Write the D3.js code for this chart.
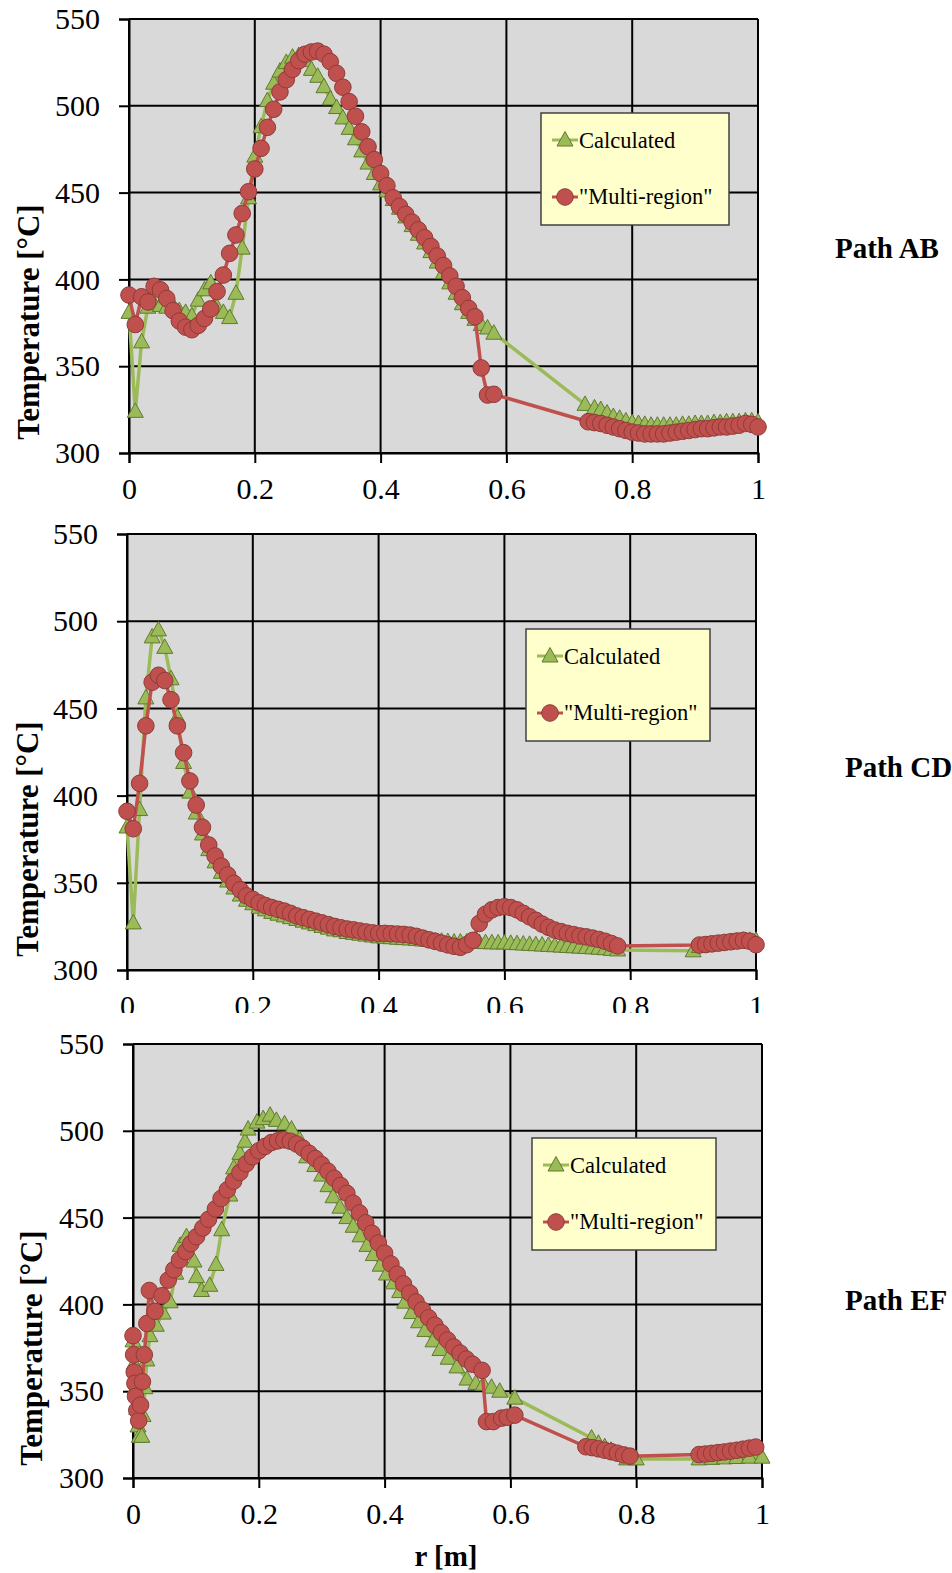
<!DOCTYPE html>
<meta charset="utf-8">
<html>
<head>
<title>Temperature along paths</title>
<style>
  body { margin: 0; background: #fff; }
  svg { display: block; }
  text { font-family: 'Liberation Serif', 'Times New Roman', serif; }
</style>
</head>
<body>
<script src="https://cdnjs.cloudflare.com/ajax/libs/d3/7.8.5/d3.min.js"></script>
<script>
// axis ticks
var xTicks = [0, 0.2, 0.4, 0.6, 0.8, 1];
var yTicks = [300, 350, 400, 450, 500, 550];
var seriesNames = ["Calculated", "\"Multi-region\""];

// Path AB  [r (m), T (°C)]
var abCalc = [
  [0,381],[0.01,324],[0.02,364],[0.03,384],[0.04,386],[0.05,385],[0.06,384],[0.07,385],[0.08,382],[0.09,381],
  [0.10,379],[0.11,388],[0.12,394],[0.13,398],[0.14,384],[0.15,381],[0.16,378],[0.17,392],[0.18,418],[0.19,447],
  [0.20,471],[0.21,488],[0.22,503],[0.23,513],[0.24,520],[0.25,525],[0.26,528],[0.27,529],[0.28,526],[0.29,521],
  [0.30,517],[0.31,511],[0.32,504],[0.33,499],[0.34,493],[0.35,487],[0.36,481],[0.37,474],[0.38,467],[0.39,461],
  [0.40,455],[0.41,451],[0.42,446],[0.43,441],[0.44,436],[0.45,431],[0.46,426],[0.47,421],[0.48,416],[0.49,410],
  [0.50,404],[0.51,398],[0.52,392],[0.53,386],[0.54,381],[0.55,377],[0.56,374],[0.57,372],[0.58,369],
  [0.725,328],[0.74,326],[0.75,325],[0.76,323],[0.77,321],[0.78,320],[0.79,318.5],[0.80,317.5],[0.81,317],[0.82,316.5],
  [0.83,316],[0.84,316],[0.85,316],[0.86,316],[0.87,316],[0.88,316.5],[0.89,316.5],[0.90,317],[0.91,317],[0.92,317],
  [0.93,317.5],[0.94,317.5],[0.95,318],[0.96,318],[0.97,318],[0.98,318.5],[0.99,318.5],[1.0,318]
];
var abMulti = [
  [0,391],[0.01,374],[0.02,390],[0.03,387],[0.04,396],[0.05,394],[0.06,389],[0.07,382],[0.08,376],[0.09,372.5],
  [0.10,371],[0.11,373.5],[0.12,377.5],[0.13,383],[0.14,393],[0.15,402.5],[0.16,415],[0.17,425.6],[0.18,438],[0.19,450.5],
  [0.20,463.6],[0.21,475.5],[0.22,487.6],[0.23,498],[0.24,508],[0.25,515],[0.26,521],[0.27,526],[0.28,529.7],[0.29,531],
  [0.30,531.5],[0.31,529.7],[0.32,525.4],[0.33,518.7],[0.34,510.7],[0.35,502.4],[0.36,494],[0.37,485],[0.38,476.4],[0.39,469],
  [0.40,461],[0.41,454],[0.42,447],[0.43,442],[0.44,437.5],[0.45,433],[0.46,428.5],[0.47,424],[0.48,419],[0.49,413.5],
  [0.50,408],[0.51,402],[0.52,396],[0.53,389.5],[0.54,383.3],[0.55,378.5],[0.56,349],[0.57,333.4],[0.58,333.8],
  [0.73,318],[0.74,317.5],[0.75,317],[0.76,316],[0.77,315],[0.78,314],[0.79,313],[0.80,312],[0.81,311.5],[0.82,311],
  [0.83,311],[0.84,311],[0.85,311],[0.86,311.5],[0.87,312],[0.88,312.5],[0.89,313],[0.90,313.5],[0.91,314],[0.92,314],
  [0.93,314.5],[0.94,315],[0.95,315],[0.96,315.5],[0.97,316],[0.98,317],[0.99,316.5],[1.0,315]
];

// Path CD
var cdCalc = [
  [0,382],[0.01,327],[0.02,392],[0.03,456],[0.04,491],[0.05,495],[0.06,485],[0.07,467],[0.08,445],[0.09,419],
  [0.10,402],[0.11,390],[0.12,378],[0.13,369],[0.14,362],[0.15,356],[0.16,351],[0.17,347],[0.18,343],[0.19,340],
  [0.20,338],[0.21,336],[0.22,334.5],[0.23,333],[0.24,332],[0.25,331],[0.26,330],[0.27,329],[0.28,328],[0.29,327],
  [0.30,326],[0.31,325],[0.32,324],[0.33,323],[0.34,322.5],[0.35,321.5],[0.36,321],[0.37,320.5],[0.38,320],[0.39,319.5],
  [0.40,319],[0.41,318.8],[0.42,318.5],[0.43,318.2],[0.44,318],[0.45,317.8],[0.46,317.5],[0.47,317.2],[0.48,317],[0.49,316.8],
  [0.50,316.5],[0.51,316.3],[0.52,316],[0.53,316],[0.54,316],[0.55,316],[0.56,315.8],[0.57,315.7],[0.58,315.6],[0.59,315.5],
  [0.60,315.5],[0.61,315.3],[0.62,315.1],[0.63,314.9],[0.64,314.7],[0.65,314.5],[0.66,314.3],[0.67,314.1],[0.68,313.9],[0.69,313.7],
  [0.70,313.5],[0.71,313.3],[0.72,313.1],[0.73,312.9],[0.74,312.7],[0.75,312.5],[0.76,312.2],[0.77,311.8],[0.78,311.5],
  [0.90,311],[0.91,313.5],[0.92,314],[0.93,314.5],[0.94,315],[0.95,315.5],[0.96,316],[0.97,316.5],[0.98,317],[0.99,317],[1.0,317]
];
var cdMulti = [
  [0,391],[0.01,381],[0.02,407],[0.03,440],[0.04,465],[0.05,469],[0.06,466],[0.07,455],[0.08,440],[0.09,424.6],
  [0.10,408.4],[0.11,394.6],[0.12,381.8],[0.13,371.7],[0.14,365.4],[0.15,359.6],[0.16,354.5],[0.17,349.7],[0.18,346],[0.19,342.5],
  [0.20,340.5],[0.21,338.5],[0.22,337],[0.23,335.8],[0.24,334.8],[0.25,333.8],[0.26,332.5],[0.27,331],[0.28,330],[0.29,329],
  [0.30,328],[0.31,327],[0.32,326],[0.33,325],[0.34,324.2],[0.35,323.5],[0.36,323],[0.37,322.4],[0.38,321.8],[0.39,321.3],
  [0.40,321],[0.41,321],[0.42,320.8],[0.43,320.6],[0.44,320.4],[0.45,320],[0.46,319.3],[0.47,318.3],[0.48,317.3],[0.49,316.4],
  [0.50,315.4],[0.51,314.4],[0.52,313.6],[0.53,313],[0.54,314.5],[0.55,317],[0.56,326.7],[0.57,332],[0.58,334.5],[0.59,335.8],
  [0.60,336.3],[0.61,335.8],[0.62,334.5],[0.63,332.5],[0.64,330.5],[0.65,328.5],[0.66,326.3],[0.67,324.5],[0.68,322.9],[0.69,322],
  [0.70,321],[0.71,320.3],[0.72,319.5],[0.73,319],[0.74,318.3],[0.75,317.5],[0.76,316.5],[0.77,315.2],[0.78,313.8],
  [0.91,314.3],[0.92,314.6],[0.93,315],[0.94,315.4],[0.95,315.8],[0.96,316.2],[0.97,316.6],[0.98,317],[0.99,316.5],[1.0,314.5]
];

// Path EF
var efCalc = [
  [0,379],[0.002,366],[0.004,352],[0.006,340],[0.008,330],[0.01,324],[0.014,324],[0.016,336],[0.019,352],[0.022,368],
  [0.027,382],[0.037,388],[0.048,395],[0.059,401.5],[0.068,418],[0.075,434],[0.085,439],[0.097,425],[0.101,416],[0.109,408],
  [0.122,411],[0.132,423],[0.141,443],[0.154,463],[0.16,478.6],[0.17,487],[0.178,494],[0.183,501],[0.197,505],[0.207,507],
  [0.218,509],[0.228,506],[0.241,504],[0.252,501],[0.265,495],[0.276,485],[0.289,480],[0.30,474.5],[0.31,468.4],[0.318,462],
  [0.329,456],[0.34,450],[0.35,445],[0.361,439.5],[0.372,434],[0.382,428.7],[0.393,422.6],[0.403,417.5],[0.414,412.4],[0.424,407.4],
  [0.432,401.3],[0.443,395.3],[0.454,390],[0.464,385],[0.477,379],[0.488,374],[0.501,369],[0.515,364],[0.531,357],[0.545,354.5],
  [0.557,354],[0.57,352.3],[0.583,350],[0.607,346],
  [0.729,323],[0.74,320],[0.75,318],[0.76,316],[0.77,314],[0.785,311],[0.80,311],
  [0.90,311],[0.92,311.3],[0.94,311.6],[0.96,311.8],[0.98,312],[1.0,312]
];
var efMulti = [
  [0,382],[0.001,371],[0.002,361],[0.003,354.5],[0.004,347],[0.006,339],[0.009,333],[0.012,342],[0.015,355.5],[0.018,371],
  [0.022,389],[0.026,408],[0.035,396],[0.046,405],[0.056,414],[0.065,420],[0.074,425.6],[0.084,430.4],[0.092,435],[0.101,439],
  [0.111,444],[0.12,449],[0.131,455],[0.14,461],[0.15,466],[0.16,471],[0.17,476],[0.18,481],[0.19,485],[0.20,488.5],
  [0.21,491],[0.22,493.2],[0.23,494.2],[0.24,494.8],[0.25,494],[0.26,492.4],[0.27,490],[0.28,487],[0.29,484],[0.30,480.5],
  [0.31,476.7],[0.32,472.6],[0.33,468.5],[0.34,464],[0.35,458.3],[0.36,452.7],[0.37,447],[0.38,441],[0.39,435.4],[0.40,429.5],
  [0.41,423.3],[0.42,417.4],[0.43,411.8],[0.44,406.5],[0.45,401.4],[0.46,396.8],[0.47,392.3],[0.48,388],[0.49,383.7],[0.50,379.5],
  [0.51,375.5],[0.52,372],[0.53,368.5],[0.54,365.5],[0.555,362],[0.562,332.5],[0.573,332.5],[0.586,334.5],[0.595,335],[0.607,336.2],
  [0.72,318],[0.73,317.5],[0.74,316.8],[0.75,316],[0.76,315.2],[0.77,314.3],[0.78,313.3],[0.79,312.6],
  [0.90,313.5],[0.91,313.8],[0.92,314.2],[0.93,314.6],[0.94,315],[0.95,315.5],[0.96,316],[0.97,316.6],[0.98,317.2],[0.99,317.8]
];

var panels = [
  {left:129, top:19, h:434, calc:abCalc, multi:abMulti, legX:541, legY:113, legW:188,
   name:"Path AB", nameX:835, nameY:258, titleX:28, titleY:322},
  {left:127, top:534, h:436, calc:cdCalc, multi:cdMulti, legX:526, legY:629, legW:184,
   name:"Path CD", nameX:845, nameY:777, titleX:27, titleY:839},
  {left:133, top:1044, h:434, calc:efCalc, multi:efMulti, legX:532, legY:1138, legW:184,
   name:"Path EF", nameX:845, nameY:1310, titleX:31, titleY:1348, xTitle:"r [m]", cover:1013}
];

var plotW = 629;
var green = "#9bbb59", greenDark = "#5f7a2e";
var red = "#c0504d", redDark = "#8e3b39";
var serif = "'Liberation Serif', 'Times New Roman', serif";

var svg = d3.select("body").append("svg")
  .attr("width", 952).attr("height", 1573)
  .attr("font-family", serif);

var tri = "M0,-8.5L8,6L-8,6Z";

function drawMarker(g, kind, x, y) {
  if (kind === "calc") {
    g.append("path").attr("d", tri).attr("transform", "translate(" + x + "," + y + ")")
      .attr("fill", green).attr("stroke", greenDark).attr("stroke-width", 1);
  } else {
    g.append("circle").attr("cx", x).attr("cy", y).attr("r", 8.3)
      .attr("fill", red).attr("stroke", redDark).attr("stroke-width", 1);
  }
}

panels.forEach(function (p) {
  var g = svg.append("g");

  // the lower picture sits on top of the upper one's labels
  if (p.cover) {
    g.append("rect").attr("x", 0).attr("y", p.cover).attr("width", 952).attr("height", 1573 - p.cover).attr("fill", "#fff");
  }

  var x = d3.scaleLinear().domain([0, 1]).range([p.left, p.left + plotW]);
  var y = d3.scaleLinear().domain([300, 550]).range([p.top + p.h, p.top]);

  g.append("rect").attr("x", p.left).attr("y", p.top).attr("width", plotW).attr("height", p.h)
    .attr("fill", "#d9d9d9");

  // grid
  g.selectAll(".gx").data(xTicks).enter().append("line")
    .attr("x1", d => x(d)).attr("x2", d => x(d)).attr("y1", p.top).attr("y2", p.top + p.h)
    .attr("stroke", "#000").attr("stroke-width", 2);
  g.selectAll(".gy").data(yTicks).enter().append("line")
    .attr("x1", p.left).attr("x2", p.left + plotW).attr("y1", d => y(d)).attr("y2", d => y(d))
    .attr("stroke", "#000").attr("stroke-width", 2);

  // axes
  var ya = g.append("g").attr("transform", "translate(" + p.left + ",0)")
    .call(d3.axisLeft(y).tickValues(yTicks).tickSize(10).tickPadding(19));
  var xa = g.append("g").attr("transform", "translate(0," + (p.top + p.h) + ")")
    .call(d3.axisBottom(x).tickValues(xTicks).tickSize(10).tickPadding(15).tickFormat(d => String(d)));
  [ya, xa].forEach(function (a) {
    a.attr("font-family", serif).attr("font-size", 30);
    a.select(".domain").attr("stroke", "#000").attr("stroke-width", 2);
    a.selectAll(".tick line").attr("stroke", "#000").attr("stroke-width", 2);
    a.selectAll("text").attr("fill", "#000");
  });

  // series
  var line = d3.line().x(d => x(d[0])).y(d => y(d[1]));
  g.append("path").datum(p.calc).attr("d", line).attr("fill", "none")
    .attr("stroke", green).attr("stroke-width", 3.5).attr("stroke-linejoin", "round");
  p.calc.forEach(function (d) { drawMarker(g, "calc", x(d[0]), y(d[1])); });

  g.append("path").datum(p.multi).attr("d", line).attr("fill", "none")
    .attr("stroke", red).attr("stroke-width", 3.5).attr("stroke-linejoin", "round");
  p.multi.forEach(function (d) { drawMarker(g, "multi", x(d[0]), y(d[1])); });

  // legend
  var lg = g.append("g").attr("transform", "translate(" + p.legX + "," + p.legY + ")");
  lg.append("rect").attr("width", p.legW).attr("height", 112)
    .attr("fill", "#ffffcc").attr("stroke", "#404040").attr("stroke-width", 1.5);
  [["calc", 27, 35, green], ["multi", 84, 91, red]].forEach(function (e, i) {
    lg.append("line").attr("x1", 11).attr("x2", 37).attr("y1", e[1]).attr("y2", e[1])
      .attr("stroke", e[3]).attr("stroke-width", 3);
    drawMarker(lg, e[0], 24, e[1]);
    lg.append("text").attr("x", 38).attr("y", e[2]).text(seriesNames[i])
      .attr("font-size", 22.5).attr("fill", "#000");
  });

  // labels
  g.append("text").attr("transform", "translate(" + p.titleX + "," + p.titleY + ") rotate(-90)")
    .attr("text-anchor", "middle").attr("dy", "0.35em")
    .attr("font-size", 31).attr("font-weight", "bold").text("Temperature [°C]");
  g.append("text").attr("x", p.nameX).attr("y", p.nameY)
    .attr("font-size", 29).attr("font-weight", "bold").text(p.name);
  if (p.xTitle) {
    g.append("text").attr("x", 446).attr("y", 1566).attr("text-anchor", "middle")
      .attr("font-size", 29).attr("font-weight", "bold").text(p.xTitle);
  }
});
</script>
</body>
</html>
